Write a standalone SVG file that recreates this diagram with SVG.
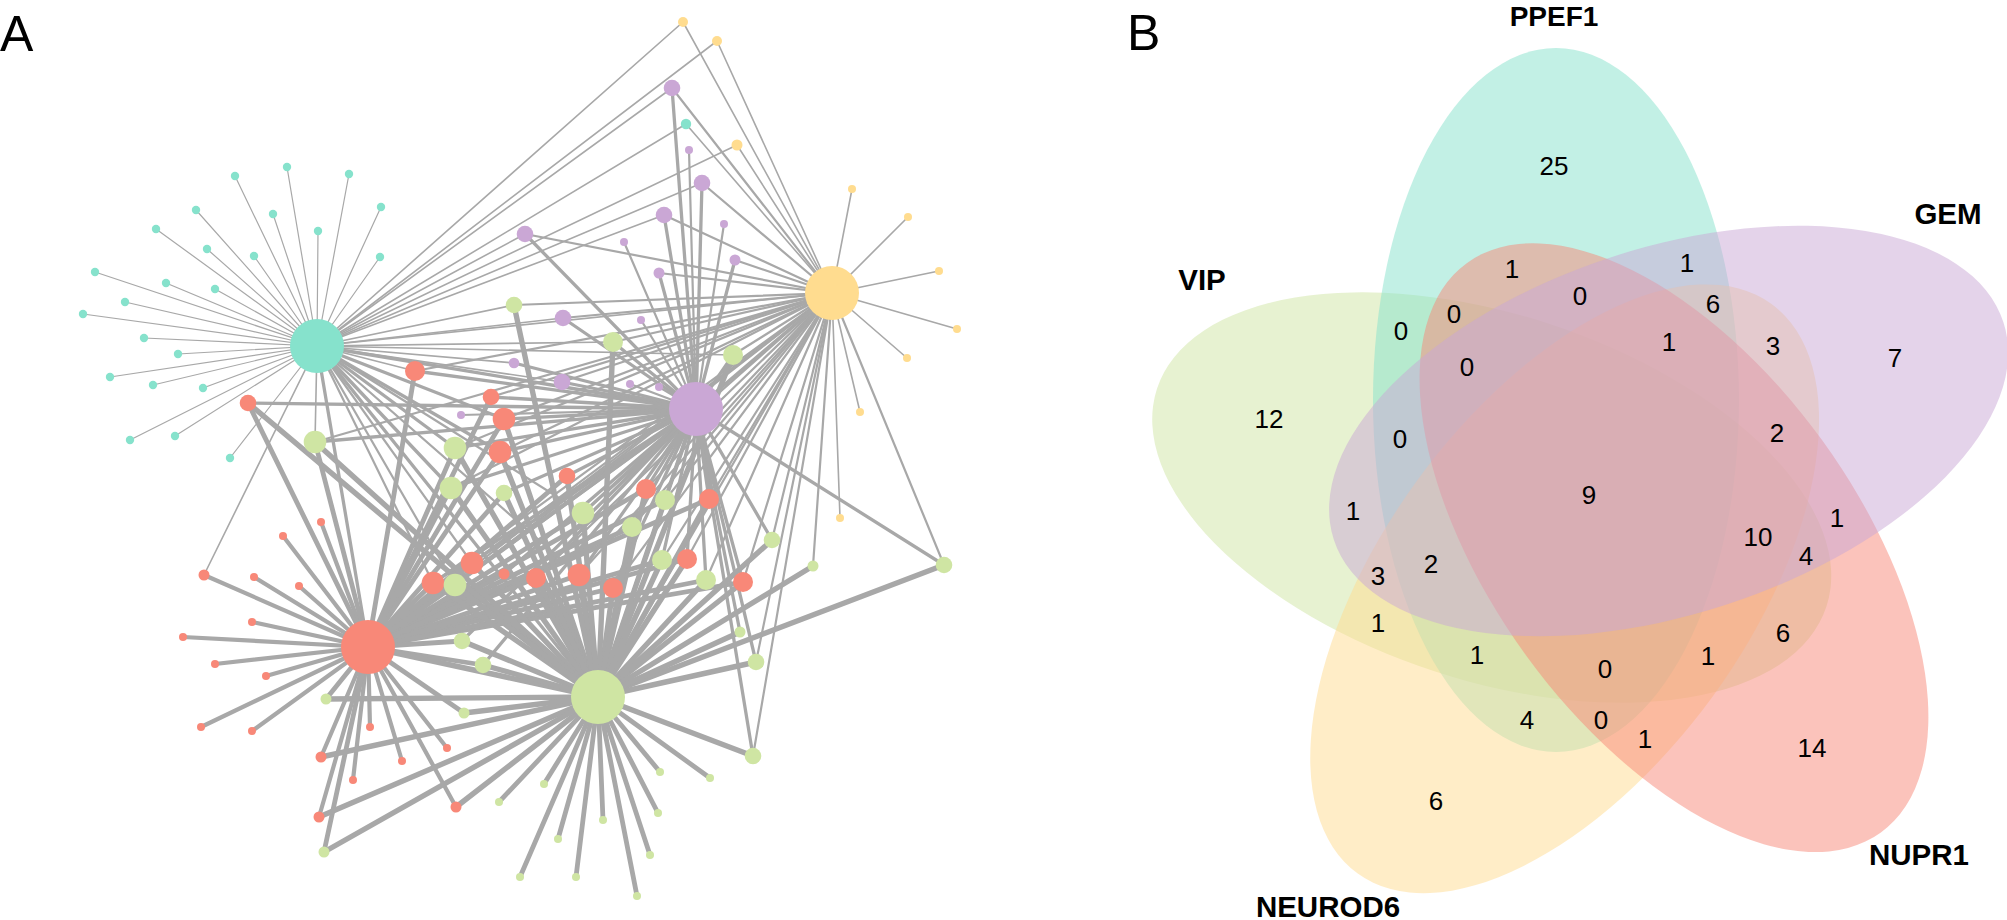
<svg xmlns="http://www.w3.org/2000/svg" width="2007" height="920" viewBox="0 0 2007 920">
<style>
.e line{stroke:#a8a8a8;stroke-linecap:round}
.w1 line{stroke-width:1.2}.w15 line{stroke-width:1.6}.w2 line{stroke-width:2.2}.w3 line{stroke-width:3.3}.w4 line{stroke-width:4.2}.w45 line{stroke-width:4.8}.w5 line{stroke-width:5.4}
.ct{fill:#86e2cc}.cy{fill:#ffdc8f}.cp{fill:#caa7d5}.cg{fill:#cfe5a3}.cr{fill:#f88878}
.set{fill-opacity:0.5;stroke:none}
.lab{font-family:"Liberation Sans",Arial,sans-serif;font-size:50px;fill:#000}
.sl{font-family:"Liberation Sans",Arial,sans-serif;font-size:29.5px;font-weight:bold;fill:#000;text-anchor:middle}
.num{font-family:"Liberation Sans",Arial,sans-serif;font-size:26px;fill:#000;text-anchor:middle}
</style>
<rect width="2007" height="920" fill="#fff"/>
<text class="lab" x="0" y="51">A</text>
<text class="lab" x="1127" y="50">B</text>
<g id="connectors" class="e">
<g class="w1">
<line x1="317" y1="346" x2="287" y2="167"/><line x1="317" y1="346" x2="235" y2="176"/><line x1="317" y1="346" x2="349" y2="174"/><line x1="317" y1="346" x2="196" y2="210"/><line x1="317" y1="346" x2="273" y2="214"/><line x1="317" y1="346" x2="381" y2="207"/><line x1="317" y1="346" x2="318" y2="231"/><line x1="317" y1="346" x2="156" y2="229"/><line x1="317" y1="346" x2="207" y2="249"/><line x1="317" y1="346" x2="254" y2="256"/><line x1="317" y1="346" x2="380" y2="257"/><line x1="317" y1="346" x2="95" y2="272"/><line x1="317" y1="346" x2="166" y2="283"/><line x1="317" y1="346" x2="215" y2="289"/><line x1="317" y1="346" x2="125" y2="302"/><line x1="317" y1="346" x2="83" y2="314"/><line x1="317" y1="346" x2="144" y2="338"/><line x1="317" y1="346" x2="178" y2="354"/><line x1="317" y1="346" x2="110" y2="377"/><line x1="317" y1="346" x2="153" y2="385"/><line x1="317" y1="346" x2="203" y2="388"/><line x1="317" y1="346" x2="130" y2="440"/><line x1="317" y1="346" x2="175" y2="436"/><line x1="317" y1="346" x2="230" y2="458"/>
</g>
<g class="w15">
<line x1="317" y1="346" x2="686" y2="124"/><line x1="317" y1="346" x2="683" y2="22"/><line x1="317" y1="346" x2="717" y2="41"/><line x1="317" y1="346" x2="737" y2="145"/><line x1="317" y1="346" x2="672" y2="88"/><line x1="317" y1="346" x2="702" y2="183"/><line x1="317" y1="346" x2="664" y2="215"/><line x1="317" y1="346" x2="525" y2="234"/><line x1="317" y1="346" x2="563" y2="318"/><line x1="317" y1="346" x2="514" y2="363"/><line x1="317" y1="346" x2="562" y2="382"/><line x1="317" y1="346" x2="415" y2="371"/><line x1="317" y1="346" x2="514" y2="305"/><line x1="317" y1="346" x2="315" y2="442"/><line x1="317" y1="346" x2="613" y2="342"/><line x1="317" y1="346" x2="733" y2="355"/><line x1="317" y1="346" x2="204" y2="575"/><line x1="317" y1="346" x2="832" y2="293"/>
<line x1="832" y1="293" x2="683" y2="22"/><line x1="832" y1="293" x2="717" y2="41"/><line x1="832" y1="293" x2="737" y2="145"/><line x1="832" y1="293" x2="852" y2="189"/><line x1="832" y1="293" x2="908" y2="217"/><line x1="832" y1="293" x2="939" y2="271"/><line x1="832" y1="293" x2="957" y2="329"/><line x1="832" y1="293" x2="907" y2="358"/><line x1="832" y1="293" x2="860" y2="412"/><line x1="832" y1="293" x2="840" y2="518"/><line x1="832" y1="293" x2="686" y2="124"/>
</g>
<g class="w2">
<line x1="317" y1="346" x2="472" y2="563"/><line x1="317" y1="346" x2="433" y2="583"/><line x1="317" y1="346" x2="579" y2="575"/><line x1="317" y1="346" x2="583" y2="513"/><line x1="317" y1="346" x2="455" y2="585"/>
<line x1="832" y1="293" x2="672" y2="88"/><line x1="832" y1="293" x2="702" y2="183"/><line x1="832" y1="293" x2="664" y2="215"/><line x1="832" y1="293" x2="525" y2="234"/><line x1="832" y1="293" x2="735" y2="260"/><line x1="832" y1="293" x2="659" y2="273"/><line x1="832" y1="293" x2="563" y2="318"/><line x1="832" y1="293" x2="562" y2="382"/><line x1="832" y1="293" x2="415" y2="371"/><line x1="832" y1="293" x2="491" y2="397"/><line x1="832" y1="293" x2="504" y2="419"/><line x1="832" y1="293" x2="500" y2="452"/><line x1="832" y1="293" x2="646" y2="489"/><line x1="832" y1="293" x2="709" y2="499"/><line x1="832" y1="293" x2="472" y2="563"/><line x1="832" y1="293" x2="433" y2="583"/><line x1="832" y1="293" x2="536" y2="578"/><line x1="832" y1="293" x2="579" y2="575"/><line x1="832" y1="293" x2="613" y2="588"/><line x1="832" y1="293" x2="687" y2="559"/><line x1="832" y1="293" x2="743" y2="582"/><line x1="832" y1="293" x2="514" y2="305"/><line x1="832" y1="293" x2="315" y2="442"/><line x1="832" y1="293" x2="455" y2="448"/><line x1="832" y1="293" x2="451" y2="488"/><line x1="832" y1="293" x2="613" y2="342"/><line x1="832" y1="293" x2="733" y2="355"/><line x1="832" y1="293" x2="583" y2="513"/><line x1="832" y1="293" x2="665" y2="500"/><line x1="832" y1="293" x2="632" y2="527"/><line x1="832" y1="293" x2="772" y2="540"/><line x1="832" y1="293" x2="662" y2="560"/><line x1="832" y1="293" x2="706" y2="580"/><line x1="832" y1="293" x2="813" y2="566"/><line x1="832" y1="293" x2="944" y2="565"/><line x1="832" y1="293" x2="756" y2="662"/><line x1="832" y1="293" x2="753" y2="756"/><line x1="832" y1="293" x2="455" y2="585"/><line x1="832" y1="293" x2="368" y2="647"/><line x1="832" y1="293" x2="598" y2="697"/>
<line x1="696" y1="409" x2="689" y2="150"/><line x1="696" y1="409" x2="724" y2="224"/><line x1="696" y1="409" x2="624" y2="242"/><line x1="696" y1="409" x2="641" y2="320"/><line x1="696" y1="409" x2="630" y2="384"/><line x1="696" y1="409" x2="659" y2="387"/><line x1="696" y1="409" x2="461" y2="415"/>
</g>
<g class="w3">
<line x1="317" y1="346" x2="504" y2="419"/><line x1="317" y1="346" x2="500" y2="452"/><line x1="317" y1="346" x2="455" y2="448"/><line x1="317" y1="346" x2="451" y2="488"/><line x1="317" y1="346" x2="368" y2="647"/><line x1="317" y1="346" x2="598" y2="697"/><line x1="317" y1="346" x2="696" y2="409"/>
<line x1="832" y1="293" x2="696" y2="409"/>
<line x1="696" y1="409" x2="672" y2="88"/><line x1="696" y1="409" x2="702" y2="183"/><line x1="696" y1="409" x2="664" y2="215"/><line x1="696" y1="409" x2="525" y2="234"/><line x1="696" y1="409" x2="735" y2="260"/><line x1="696" y1="409" x2="659" y2="273"/><line x1="696" y1="409" x2="563" y2="318"/><line x1="696" y1="409" x2="514" y2="363"/><line x1="696" y1="409" x2="562" y2="382"/><line x1="696" y1="409" x2="415" y2="371"/><line x1="696" y1="409" x2="248" y2="403"/><line x1="696" y1="409" x2="491" y2="397"/><line x1="696" y1="409" x2="504" y2="419"/><line x1="696" y1="409" x2="500" y2="452"/><line x1="696" y1="409" x2="567" y2="476"/><line x1="696" y1="409" x2="646" y2="489"/><line x1="696" y1="409" x2="709" y2="499"/><line x1="696" y1="409" x2="472" y2="563"/><line x1="696" y1="409" x2="433" y2="583"/><line x1="696" y1="409" x2="504" y2="574"/><line x1="696" y1="409" x2="536" y2="578"/><line x1="696" y1="409" x2="579" y2="575"/><line x1="696" y1="409" x2="613" y2="588"/><line x1="696" y1="409" x2="687" y2="559"/><line x1="696" y1="409" x2="743" y2="582"/><line x1="696" y1="409" x2="315" y2="442"/><line x1="696" y1="409" x2="455" y2="448"/><line x1="696" y1="409" x2="451" y2="488"/><line x1="696" y1="409" x2="504" y2="493"/><line x1="696" y1="409" x2="613" y2="342"/><line x1="696" y1="409" x2="733" y2="355"/><line x1="696" y1="409" x2="583" y2="513"/><line x1="696" y1="409" x2="665" y2="500"/><line x1="696" y1="409" x2="632" y2="527"/><line x1="696" y1="409" x2="772" y2="540"/><line x1="696" y1="409" x2="662" y2="560"/><line x1="696" y1="409" x2="706" y2="580"/><line x1="696" y1="409" x2="944" y2="565"/><line x1="696" y1="409" x2="740" y2="632"/><line x1="696" y1="409" x2="756" y2="662"/><line x1="696" y1="409" x2="462" y2="641"/><line x1="696" y1="409" x2="483" y2="665"/><line x1="696" y1="409" x2="753" y2="756"/><line x1="696" y1="409" x2="455" y2="585"/>
</g>
<g class="w4">
<line x1="696" y1="409" x2="368" y2="647"/><line x1="696" y1="409" x2="598" y2="697"/>
<line x1="368" y1="647" x2="321" y2="522"/><line x1="368" y1="647" x2="283" y2="536"/><line x1="368" y1="647" x2="204" y2="575"/><line x1="368" y1="647" x2="254" y2="577"/><line x1="368" y1="647" x2="299" y2="586"/><line x1="368" y1="647" x2="252" y2="622"/><line x1="368" y1="647" x2="183" y2="637"/><line x1="368" y1="647" x2="215" y2="664"/><line x1="368" y1="647" x2="266" y2="676"/><line x1="368" y1="647" x2="201" y2="727"/><line x1="368" y1="647" x2="252" y2="731"/><line x1="368" y1="647" x2="370" y2="727"/><line x1="368" y1="647" x2="447" y2="748"/><line x1="368" y1="647" x2="321" y2="757"/><line x1="368" y1="647" x2="402" y2="761"/><line x1="368" y1="647" x2="353" y2="780"/><line x1="368" y1="647" x2="456" y2="807"/><line x1="368" y1="647" x2="319" y2="817"/>
</g>
<g class="w45">
<line x1="368" y1="647" x2="415" y2="371"/><line x1="368" y1="647" x2="248" y2="403"/><line x1="368" y1="647" x2="491" y2="397"/><line x1="368" y1="647" x2="504" y2="419"/><line x1="368" y1="647" x2="500" y2="452"/><line x1="368" y1="647" x2="567" y2="476"/><line x1="368" y1="647" x2="646" y2="489"/><line x1="368" y1="647" x2="709" y2="499"/><line x1="368" y1="647" x2="472" y2="563"/><line x1="368" y1="647" x2="433" y2="583"/><line x1="368" y1="647" x2="504" y2="574"/><line x1="368" y1="647" x2="536" y2="578"/><line x1="368" y1="647" x2="579" y2="575"/><line x1="368" y1="647" x2="613" y2="588"/><line x1="368" y1="647" x2="687" y2="559"/><line x1="368" y1="647" x2="743" y2="582"/><line x1="368" y1="647" x2="315" y2="442"/><line x1="368" y1="647" x2="455" y2="448"/><line x1="368" y1="647" x2="451" y2="488"/><line x1="368" y1="647" x2="504" y2="493"/><line x1="368" y1="647" x2="583" y2="513"/><line x1="368" y1="647" x2="665" y2="500"/><line x1="368" y1="647" x2="632" y2="527"/><line x1="368" y1="647" x2="662" y2="560"/><line x1="368" y1="647" x2="706" y2="580"/><line x1="368" y1="647" x2="462" y2="641"/><line x1="368" y1="647" x2="483" y2="665"/><line x1="368" y1="647" x2="326" y2="699"/><line x1="368" y1="647" x2="464" y2="713"/><line x1="368" y1="647" x2="324" y2="852"/><line x1="368" y1="647" x2="455" y2="585"/>
<line x1="598" y1="697" x2="660" y2="772"/><line x1="598" y1="697" x2="710" y2="778"/><line x1="598" y1="697" x2="544" y2="784"/><line x1="598" y1="697" x2="499" y2="802"/><line x1="598" y1="697" x2="658" y2="813"/><line x1="598" y1="697" x2="603" y2="820"/><line x1="598" y1="697" x2="558" y2="839"/><line x1="598" y1="697" x2="650" y2="855"/><line x1="598" y1="697" x2="520" y2="877"/><line x1="598" y1="697" x2="576" y2="877"/><line x1="598" y1="697" x2="637" y2="896"/>
</g>
<g class="w5">
<line x1="368" y1="647" x2="598" y2="697"/>
<line x1="598" y1="697" x2="248" y2="403"/><line x1="598" y1="697" x2="504" y2="419"/><line x1="598" y1="697" x2="500" y2="452"/><line x1="598" y1="697" x2="567" y2="476"/><line x1="598" y1="697" x2="646" y2="489"/><line x1="598" y1="697" x2="709" y2="499"/><line x1="598" y1="697" x2="472" y2="563"/><line x1="598" y1="697" x2="433" y2="583"/><line x1="598" y1="697" x2="536" y2="578"/><line x1="598" y1="697" x2="579" y2="575"/><line x1="598" y1="697" x2="613" y2="588"/><line x1="598" y1="697" x2="687" y2="559"/><line x1="598" y1="697" x2="743" y2="582"/><line x1="598" y1="697" x2="321" y2="757"/><line x1="598" y1="697" x2="456" y2="807"/><line x1="598" y1="697" x2="319" y2="817"/><line x1="598" y1="697" x2="514" y2="305"/><line x1="598" y1="697" x2="315" y2="442"/><line x1="598" y1="697" x2="455" y2="448"/><line x1="598" y1="697" x2="451" y2="488"/><line x1="598" y1="697" x2="504" y2="493"/><line x1="598" y1="697" x2="613" y2="342"/><line x1="598" y1="697" x2="733" y2="355"/><line x1="598" y1="697" x2="583" y2="513"/><line x1="598" y1="697" x2="665" y2="500"/><line x1="598" y1="697" x2="632" y2="527"/><line x1="598" y1="697" x2="772" y2="540"/><line x1="598" y1="697" x2="662" y2="560"/><line x1="598" y1="697" x2="706" y2="580"/><line x1="598" y1="697" x2="813" y2="566"/><line x1="598" y1="697" x2="944" y2="565"/><line x1="598" y1="697" x2="740" y2="632"/><line x1="598" y1="697" x2="756" y2="662"/><line x1="598" y1="697" x2="462" y2="641"/><line x1="598" y1="697" x2="483" y2="665"/><line x1="598" y1="697" x2="326" y2="699"/><line x1="598" y1="697" x2="464" y2="713"/><line x1="598" y1="697" x2="753" y2="756"/><line x1="598" y1="697" x2="324" y2="852"/><line x1="598" y1="697" x2="455" y2="585"/>
</g>
</g>
<g id="nodes">
<g id="t1"><circle class="ct" cx="287" cy="167" r="4.2"/></g>
<g id="t2"><circle class="ct" cx="235" cy="176" r="4.2"/></g>
<g id="t3"><circle class="ct" cx="349" cy="174" r="4.2"/></g>
<g id="t4"><circle class="ct" cx="196" cy="210" r="4.2"/></g>
<g id="t5"><circle class="ct" cx="273" cy="214" r="4.2"/></g>
<g id="t6"><circle class="ct" cx="381" cy="207" r="4.2"/></g>
<g id="t7"><circle class="ct" cx="318" cy="231" r="4.2"/></g>
<g id="t8"><circle class="ct" cx="156" cy="229" r="4.2"/></g>
<g id="t9"><circle class="ct" cx="207" cy="249" r="4.2"/></g>
<g id="t10"><circle class="ct" cx="254" cy="256" r="4.2"/></g>
<g id="t11"><circle class="ct" cx="380" cy="257" r="4.2"/></g>
<g id="t12"><circle class="ct" cx="95" cy="272" r="4.2"/></g>
<g id="t13"><circle class="ct" cx="166" cy="283" r="4.2"/></g>
<g id="t14"><circle class="ct" cx="215" cy="289" r="4.2"/></g>
<g id="t15"><circle class="ct" cx="125" cy="302" r="4.2"/></g>
<g id="t16"><circle class="ct" cx="83" cy="314" r="4.2"/></g>
<g id="t17"><circle class="ct" cx="144" cy="338" r="4.2"/></g>
<g id="t18"><circle class="ct" cx="178" cy="354" r="4.2"/></g>
<g id="t19"><circle class="ct" cx="110" cy="377" r="4.2"/></g>
<g id="t20"><circle class="ct" cx="153" cy="385" r="4.2"/></g>
<g id="t21"><circle class="ct" cx="203" cy="388" r="4.2"/></g>
<g id="t22"><circle class="ct" cx="130" cy="440" r="4.2"/></g>
<g id="t23"><circle class="ct" cx="175" cy="436" r="4.2"/></g>
<g id="t24"><circle class="ct" cx="230" cy="458" r="4.2"/></g>
<g id="t25"><circle class="ct" cx="686" cy="124" r="5.2"/></g>
<g id="y1"><circle class="cy" cx="683" cy="22" r="5"/></g>
<g id="y2"><circle class="cy" cx="717" cy="41" r="5"/></g>
<g id="y3"><circle class="cy" cx="737" cy="145" r="5.5"/></g>
<g id="y4"><circle class="cy" cx="852" cy="189" r="4"/></g>
<g id="y5"><circle class="cy" cx="908" cy="217" r="4"/></g>
<g id="y6"><circle class="cy" cx="939" cy="271" r="4"/></g>
<g id="y7"><circle class="cy" cx="957" cy="329" r="4"/></g>
<g id="y8"><circle class="cy" cx="907" cy="358" r="4"/></g>
<g id="y9"><circle class="cy" cx="860" cy="412" r="4"/></g>
<g id="y10"><circle class="cy" cx="840" cy="518" r="4"/></g>
<g id="p1"><circle class="cp" cx="672" cy="88" r="8.3"/></g>
<g id="p2"><circle class="cp" cx="689" cy="150" r="4"/></g>
<g id="p3"><circle class="cp" cx="702" cy="183" r="8.3"/></g>
<g id="p4"><circle class="cp" cx="664" cy="215" r="8.3"/></g>
<g id="p5"><circle class="cp" cx="724" cy="224" r="4"/></g>
<g id="p6"><circle class="cp" cx="525" cy="234" r="8.3"/></g>
<g id="p7"><circle class="cp" cx="624" cy="242" r="4"/></g>
<g id="p8"><circle class="cp" cx="735" cy="260" r="5.5"/></g>
<g id="p9"><circle class="cp" cx="659" cy="273" r="5.5"/></g>
<g id="p10"><circle class="cp" cx="563" cy="318" r="8.3"/></g>
<g id="p11"><circle class="cp" cx="641" cy="320" r="4"/></g>
<g id="p12"><circle class="cp" cx="514" cy="363" r="5.3"/></g>
<g id="p13"><circle class="cp" cx="562" cy="382" r="8.3"/></g>
<g id="p14"><circle class="cp" cx="630" cy="384" r="4"/></g>
<g id="p15"><circle class="cp" cx="659" cy="387" r="4"/></g>
<g id="p16"><circle class="cp" cx="461" cy="415" r="4"/></g>
<g id="r1"><circle class="cr" cx="415" cy="371" r="10"/></g>
<g id="r2"><circle class="cr" cx="248" cy="403" r="8.3"/></g>
<g id="r3"><circle class="cr" cx="491" cy="397" r="8.3"/></g>
<g id="r4"><circle class="cr" cx="504" cy="419" r="11.3"/></g>
<g id="r5"><circle class="cr" cx="500" cy="452" r="11.3"/></g>
<g id="r6"><circle class="cr" cx="567" cy="476" r="8.3"/></g>
<g id="r7"><circle class="cr" cx="646" cy="489" r="10"/></g>
<g id="r8"><circle class="cr" cx="709" cy="499" r="10"/></g>
<g id="r9"><circle class="cr" cx="472" cy="563" r="11.3"/></g>
<g id="r10"><circle class="cr" cx="433" cy="583" r="11.3"/></g>
<g id="r11"><circle class="cr" cx="504" cy="574" r="5.5"/></g>
<g id="r12"><circle class="cr" cx="536" cy="578" r="10"/></g>
<g id="r13"><circle class="cr" cx="579" cy="575" r="11.3"/></g>
<g id="r14"><circle class="cr" cx="613" cy="588" r="10"/></g>
<g id="r15"><circle class="cr" cx="687" cy="559" r="10"/></g>
<g id="r16"><circle class="cr" cx="743" cy="582" r="10"/></g>
<g id="rl1"><circle class="cr" cx="321" cy="522" r="4"/></g>
<g id="rl2"><circle class="cr" cx="283" cy="536" r="4"/></g>
<g id="rl3"><circle class="cr" cx="204" cy="575" r="5.5"/></g>
<g id="rl4"><circle class="cr" cx="254" cy="577" r="4"/></g>
<g id="rl5"><circle class="cr" cx="299" cy="586" r="4"/></g>
<g id="rl6"><circle class="cr" cx="252" cy="622" r="4"/></g>
<g id="rl7"><circle class="cr" cx="183" cy="637" r="4"/></g>
<g id="rl8"><circle class="cr" cx="215" cy="664" r="4"/></g>
<g id="rl9"><circle class="cr" cx="266" cy="676" r="4"/></g>
<g id="rl10"><circle class="cr" cx="201" cy="727" r="4"/></g>
<g id="rl11"><circle class="cr" cx="252" cy="731" r="4"/></g>
<g id="rl12"><circle class="cr" cx="370" cy="727" r="4"/></g>
<g id="rl13"><circle class="cr" cx="447" cy="748" r="4"/></g>
<g id="rl14"><circle class="cr" cx="321" cy="757" r="5.5"/></g>
<g id="rl15"><circle class="cr" cx="402" cy="761" r="4"/></g>
<g id="rl16"><circle class="cr" cx="353" cy="780" r="4"/></g>
<g id="rl17"><circle class="cr" cx="456" cy="807" r="5.5"/></g>
<g id="rl18"><circle class="cr" cx="319" cy="817" r="5.5"/></g>
<g id="g1"><circle class="cg" cx="514" cy="305" r="8.3"/></g>
<g id="g2"><circle class="cg" cx="315" cy="442" r="11.3"/></g>
<g id="g3"><circle class="cg" cx="455" cy="448" r="11.3"/></g>
<g id="g4"><circle class="cg" cx="451" cy="488" r="11.3"/></g>
<g id="g5"><circle class="cg" cx="504" cy="493" r="8.3"/></g>
<g id="g6"><circle class="cg" cx="613" cy="342" r="10"/></g>
<g id="g7"><circle class="cg" cx="733" cy="355" r="10"/></g>
<g id="g8"><circle class="cg" cx="583" cy="513" r="11.3"/></g>
<g id="g9"><circle class="cg" cx="665" cy="500" r="10"/></g>
<g id="g10"><circle class="cg" cx="632" cy="527" r="10"/></g>
<g id="g11"><circle class="cg" cx="772" cy="540" r="8.3"/></g>
<g id="g12"><circle class="cg" cx="662" cy="560" r="10"/></g>
<g id="g13"><circle class="cg" cx="706" cy="580" r="10"/></g>
<g id="g14"><circle class="cg" cx="813" cy="566" r="5.5"/></g>
<g id="g15"><circle class="cg" cx="944" cy="565" r="8.3"/></g>
<g id="g16"><circle class="cg" cx="740" cy="632" r="5.5"/></g>
<g id="g17"><circle class="cg" cx="756" cy="662" r="8.3"/></g>
<g id="g18"><circle class="cg" cx="462" cy="641" r="8.3"/></g>
<g id="g19"><circle class="cg" cx="483" cy="665" r="8.3"/></g>
<g id="g20"><circle class="cg" cx="326" cy="699" r="5.5"/></g>
<g id="g21"><circle class="cg" cx="464" cy="713" r="5.5"/></g>
<g id="g22"><circle class="cg" cx="753" cy="756" r="8.3"/></g>
<g id="g23"><circle class="cg" cx="324" cy="852" r="5.5"/></g>
<g id="g24"><circle class="cg" cx="455" cy="585" r="11.3"/></g>
<g id="gl1"><circle class="cg" cx="660" cy="772" r="4"/></g>
<g id="gl2"><circle class="cg" cx="710" cy="778" r="4"/></g>
<g id="gl3"><circle class="cg" cx="544" cy="784" r="4"/></g>
<g id="gl4"><circle class="cg" cx="499" cy="802" r="4"/></g>
<g id="gl5"><circle class="cg" cx="658" cy="813" r="4"/></g>
<g id="gl6"><circle class="cg" cx="603" cy="820" r="4"/></g>
<g id="gl7"><circle class="cg" cx="558" cy="839" r="4"/></g>
<g id="gl8"><circle class="cg" cx="650" cy="855" r="4"/></g>
<g id="gl9"><circle class="cg" cx="520" cy="877" r="4"/></g>
<g id="gl10"><circle class="cg" cx="576" cy="877" r="4"/></g>
<g id="gl11"><circle class="cg" cx="637" cy="896" r="4"/></g>
<g id="hub-PPEF1"><circle class="ct" cx="317" cy="346" r="27"/></g>
<g id="hub-NEUROD6"><circle class="cy" cx="832" cy="293" r="27"/></g>
<g id="hub-GEM"><circle class="cp" cx="696" cy="409" r="27"/></g>
<g id="hub-NUPR1"><circle class="cr" cx="368" cy="647" r="27"/></g>
<g id="hub-VIP"><circle class="cg" cx="598" cy="697" r="27"/></g>
</g>
<g id="venn">
<g id="set-VIP"><ellipse class="set cg" cx="1556" cy="400" rx="183" ry="352" transform="rotate(288 1591 493)"/><text class="sl" x="1202" y="290">VIP</text></g>
<g id="set-PPEF1"><ellipse class="set ct" cx="1556" cy="400" rx="183" ry="352"/><text class="sl" x="1554" y="25.5" style="font-size:28px">PPEF1</text></g>
<g id="set-NEUROD6"><ellipse class="set cy" cx="1556" cy="400" rx="183" ry="352" transform="rotate(216 1591 493)"/><text class="sl" x="1328" y="917">NEUROD6</text></g>
<g id="set-NUPR1"><ellipse class="set cr" cx="1556" cy="400" rx="183" ry="352" transform="rotate(144 1591 493)"/><text class="sl" x="1919" y="865">NUPR1</text></g>
<g id="set-GEM"><ellipse class="set cp" cx="1556" cy="400" rx="183" ry="352" transform="rotate(72 1591 493)"/><text class="sl" x="1948" y="224">GEM</text></g>
<g id="counts">
<text class="num" x="1554" y="174.5">25</text>
<text class="num" x="1512" y="277.5">1</text>
<text class="num" x="1687" y="271.5">1</text>
<text class="num" x="1580" y="304.5">0</text>
<text class="num" x="1713" y="312.5">6</text>
<text class="num" x="1454" y="322.5">0</text>
<text class="num" x="1401" y="339.5">0</text>
<text class="num" x="1669" y="350.5">1</text>
<text class="num" x="1773" y="354.5">3</text>
<text class="num" x="1895" y="366.5">7</text>
<text class="num" x="1467" y="375.5">0</text>
<text class="num" x="1269" y="427.5">12</text>
<text class="num" x="1777" y="441.5">2</text>
<text class="num" x="1400" y="447.5">0</text>
<text class="num" x="1589" y="503.5">9</text>
<text class="num" x="1353" y="519.5">1</text>
<text class="num" x="1837" y="526.5">1</text>
<text class="num" x="1758" y="545.5">10</text>
<text class="num" x="1806" y="564.5">4</text>
<text class="num" x="1431" y="572.5">2</text>
<text class="num" x="1378" y="584.5">3</text>
<text class="num" x="1378" y="631.5">1</text>
<text class="num" x="1783" y="641.5">6</text>
<text class="num" x="1477" y="663.5">1</text>
<text class="num" x="1708" y="664.5">1</text>
<text class="num" x="1605" y="677.5">0</text>
<text class="num" x="1527" y="728.5">4</text>
<text class="num" x="1601" y="728.5">0</text>
<text class="num" x="1645" y="747.5">1</text>
<text class="num" x="1812" y="756.5">14</text>
<text class="num" x="1436" y="809.5">6</text>
</g>
</g>
</svg>
